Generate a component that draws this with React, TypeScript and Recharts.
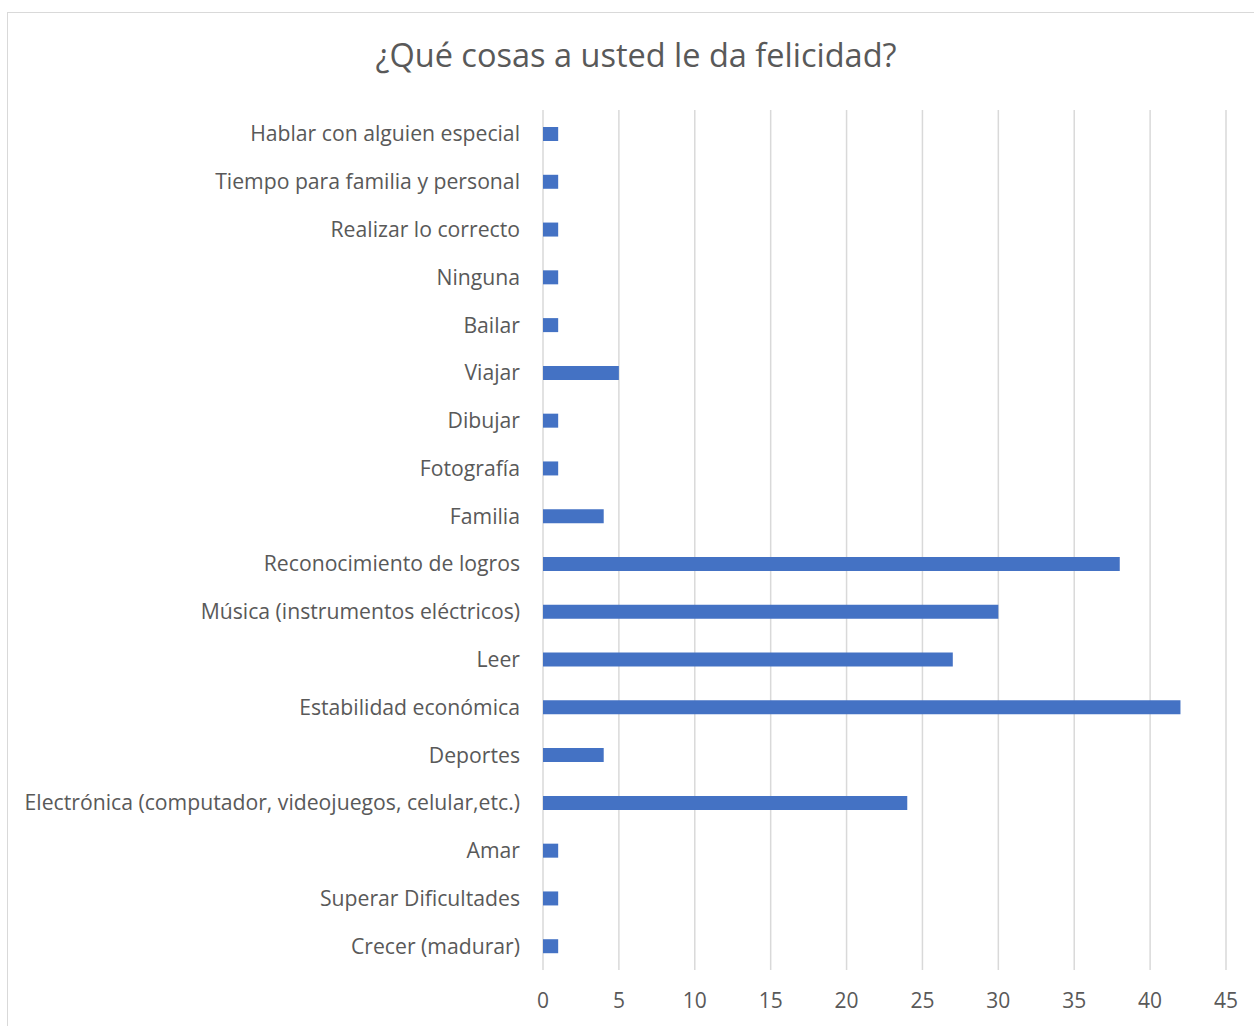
import React from 'react';
import { BarChart, Bar, XAxis, YAxis, CartesianGrid } from 'recharts';

const categories = [
  'Hablar con alguien especial',
  'Tiempo para familia y personal',
  'Realizar lo correcto',
  'Ninguna',
  'Bailar',
  'Viajar',
  'Dibujar',
  'Fotografía',
  'Familia',
  'Reconocimiento de logros',
  'Música (instrumentos eléctricos)',
  'Leer',
  'Estabilidad económica',
  'Deportes',
  'Electrónica (computador, videojuegos, celular,etc.)',
  'Amar',
  'Superar Dificultades',
  'Crecer (madurar)',
];
const values = [1, 1, 1, 1, 1, 5, 1, 1, 4, 38, 30, 27, 42, 4, 24, 1, 1, 1];
const xTicks = [0, 5, 10, 15, 20, 25, 30, 35, 40, 45];
const title = '¿Qué cosas a usted le da felicidad?';

const data = categories.map((c, i) => ({ name: c, value: values[i] }));

const FONT = '"Open Sans", Lato, sans-serif';
const TEXT = '#595959';

export default function App() {
  return (
    <div style={{ position: 'absolute', left: 0, top: 0, width: 1254, height: 1026, background: '#fff', overflow: 'hidden', fontFamily: FONT }}>
      <div style={{ position: 'absolute', left: 7, top: 12, width: 1300, height: 1100, border: '1px solid #d9d9d9', boxSizing: 'border-box' }} />
      <div style={{ position: 'absolute', left: 0, top: 34, width: 1272, textAlign: 'center', fontSize: 32.5, color: TEXT, lineHeight: '42px' }}>
        {title}
      </div>
      <div style={{ position: 'absolute', left: 0, top: 0 }}>
        <BarChart
          width={1254}
          height={1026}
          data={data}
          layout="vertical"
          margin={{ top: 110, right: 28, bottom: 16, left: 0 }}
        >
          <CartesianGrid horizontal={false} vertical={true} stroke="#d9d9d9" strokeWidth={1.5} />
          <XAxis
            type="number"
            domain={[0, 45]}
            ticks={xTicks}
            interval={0}
            axisLine={false}
            tickLine={false}
            tickSize={0}
            tickMargin={23}
            height={40}
            tick={{ fill: TEXT, fontSize: 21, fontFamily: FONT }}
          />
          <YAxis
            type="category"
            dataKey="name"
            width={543}
            interval={0}
            axisLine={false}
            tickLine={false}
            tickSize={0}
            tickMargin={23}
            tick={{ fill: TEXT, fontSize: 21.2, fontFamily: FONT }}
          />
          <Bar dataKey="value" fill="#4472C4" barSize={14} isAnimationActive={false} />
        </BarChart>
      </div>
    </div>
  );
}
